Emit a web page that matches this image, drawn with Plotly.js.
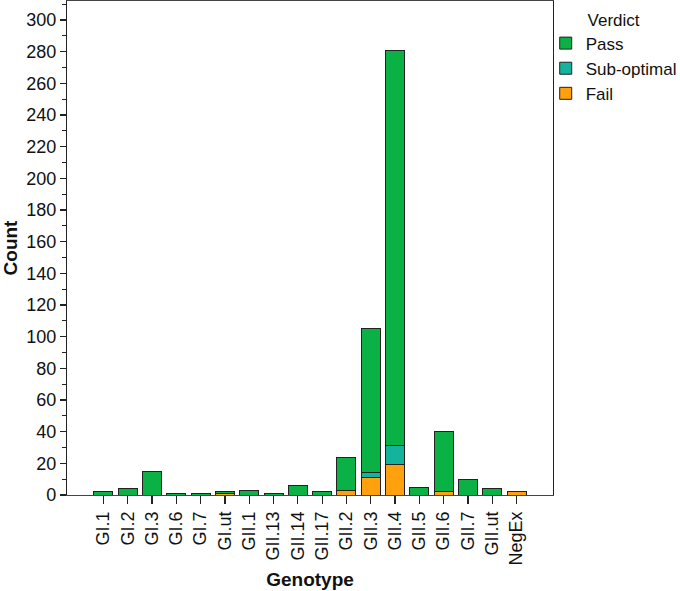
<!DOCTYPE html>
<html>
<head>
<meta charset="utf-8">
<script src="https://cdn.plot.ly/plotly-3.0.1.min.js"></script>
<style>html,body{margin:0;padding:0;background:#fff;}#chart{width:680px;height:591px;}</style>
</head>
<body>
<div id="chart"></div>
<script>
const categories = ['GI.1','GI.2','GI.3','GI.6','GI.7','GI.ut','GII.1','GII.13','GII.14','GII.17','GII.2','GII.3','GII.4','GII.5','GII.6','GII.7','GII.ut','NegEx'];
const passCounts = [2, 4, 15, 1, 1, 1, 3, 1, 6, 2, 21, 91, 250, 5, 38, 10, 4, null];
const subOptimalCounts = [null, null, null, null, null, null, null, null, null, null, null, 3, 12, null, null, null, null, null];
const failCounts = [null, null, null, null, null, 1, null, null, null, null, 3, 11, 19, null, 2, null, null, 2];

const outline = {color: '#222', width: 1};
const traces = [
  {type: 'bar', name: 'Fail', x: categories, y: failCounts, marker: {color: '#FFA10F', line: outline}},
  {type: 'bar', name: 'Sub-optimal', x: categories, y: subOptimalCounts, marker: {color: '#14B49C', line: outline}},
  {type: 'bar', name: 'Pass', x: categories, y: passCounts, marker: {color: '#0AB245', line: outline}}
];

const fam = 'Liberation Sans, Arial, sans-serif';
const layout = {
  width: 680, height: 591,
  margin: {l: 67, r: 127, t: 1, b: 96, autoexpand: false},
  paper_bgcolor: '#fff', plot_bgcolor: '#fff',
  barmode: 'stack', bargap: 0.22,
  font: {family: fam, size: 18, color: '#111'},
  showlegend: true,
  legend: {
    x: 0.985, xanchor: 'left', y: 0.995, yanchor: 'top',
    traceorder: 'reversed',
    title: {text: 'Verdict', side: 'top center', font: {family: fam, size: 17}},
    font: {family: fam, size: 17},
    itemwidth: 30,
    tracegroupgap: 0,
    bgcolor: 'rgba(0,0,0,0)'
  },
  xaxis: {
    type: 'category', categoryorder: 'array', categoryarray: categories,
    range: [-1.5, 18.5],
    tickangle: -90,
    tickfont: {family: fam, size: 18},
    ticks: 'outside', ticklen: 8, tickcolor: '#222', tickwidth: 1.2,
    showline: true, linecolor: '#444', linewidth: 1.2, mirror: true,
    showgrid: false, zeroline: false,
    title: {text: 'Genotype', font: {family: fam, size: 19, weight: 'bold'}, standoff: 8}
  },
  yaxis: {
    range: [0, 312],
    tick0: 0, dtick: 20,
    tickfont: {family: fam, size: 18},
    ticks: 'outside', ticklen: 6, tickcolor: '#222', tickwidth: 1.2,
    minor: {dtick: 10, ticks: 'outside', ticklen: 4, tickcolor: '#222', tickwidth: 1, showgrid: false},
    showline: true, linecolor: '#222', linewidth: 1.2, mirror: true,
    showgrid: false, zeroline: false,
    title: {text: 'Count', font: {family: fam, size: 19, weight: 'bold'}, standoff: 8}
  }
};

Plotly.newPlot('chart', traces, layout, {displayModeBar: false, staticPlot: true});
</script>
</body>
</html>
